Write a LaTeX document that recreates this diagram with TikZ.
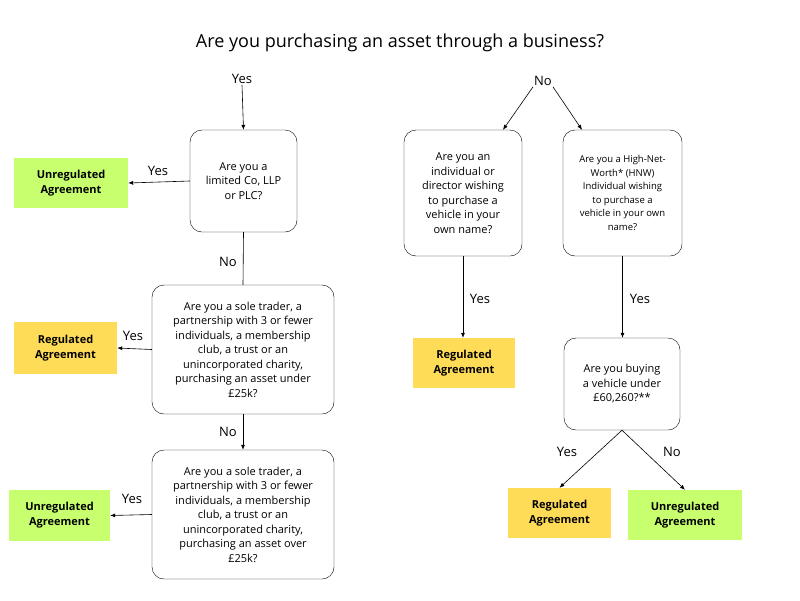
\documentclass[tikz,border=0pt]{standalone}
\usepackage{fontspec}
\setmainfont{Open Sans}
\usetikzlibrary{arrows.meta}
\definecolor{gr}{RGB}{200,255,110}
\definecolor{ye}{RGB}{255,220,88}
\begin{document}
\begin{tikzpicture}[x=1pt,y=-1pt,
 q/.style={draw,rounded corners=12pt,align=center,font=\fontsize{11}{14.5}\selectfont,inner sep=1pt},
 res/.style={fill=#1,align=center,font=\fontsize{11}{15}\selectfont\bfseries,inner sep=0pt},
 lab/.style={font=\fontsize{13}{15}\selectfont,inner sep=1pt},
 arr/.style={-{Latex[length=5pt,width=4pt]},line width=0.6pt},
 ln/.style={line width=0.6pt}]
\path[use as bounding box] (0,0) rectangle (800,600);
\node[font=\fontsize{18}{22}\selectfont] (title) at (400,43) {Are you purchasing an asset through a business?};
\node[lab] (y1) at (242,79) {Yes};
\node[q,minimum width=107pt,minimum height=102pt] (b1) at (243.5,181) {Are you a\\limited Co, LLP\\or PLC?};
\node[res=gr,minimum width=114pt,minimum height=50pt] (g1) at (71,183) {Unregulated\\Agreement};
\node[lab] (y2) at (158,171) {Yes};
\node[lab] (n1) at (228,262) {No};
\node[q,minimum width=182pt,minimum height=129pt] (b2) at (243,349.5) {Are you a sole trader, a\\partnership with 3 or fewer\\individuals, a membership\\club, a trust or an\\unincorporated charity,\\purchasing an asset under\\£25k?};
\node[res=ye,minimum width=103pt,minimum height=52pt] (r1) at (65.5,348) {Regulated\\Agreement};
\node[lab] (y3) at (133,336) {Yes};
\node[lab] (n2) at (228,432) {No};
\node[q,minimum width=182pt,minimum height=129pt] (b3) at (243,514.5) {Are you a sole trader, a\\partnership with 3 or fewer\\individuals, a membership\\club, a trust or an\\unincorporated charity,\\purchasing an asset over\\£25k?};
\node[res=gr,minimum width=101pt,minimum height=51pt] (g2) at (59.5,515.5) {Unregulated\\Agreement};
\node[lab] (y4) at (132,499) {Yes};
\draw[arr] (y1.south) -- (b1.north);
\draw[arr] (b1.west) -- (g1.east);
\draw[ln] (b1.south) -- (b2.north);
\draw[arr] (b2.west) -- (r1.east);
\draw[arr] (b2.south) -- (b3.north);
\draw[arr] (b3.west) -- (g2.east);
% right
\node[lab] (n3) at (543,81) {No};
\node[q,minimum width=118pt,minimum height=126pt] (b4) at (463,193) {Are you an\\individual or\\director wishing\\to purchase a\\vehicle in your\\own name?};
\node[q,minimum width=119pt,minimum height=126pt,font=\fontsize{9.5}{13.5}\selectfont] (b5) at (622.5,193) {Are you a High-Net-\\Worth* (HNW)\\Individual wishing\\to purchase a\\vehicle in your own\\name?};
\node[res=ye,minimum width=102pt,minimum height=50pt] (r2) at (464,363) {Regulated\\Agreement};
\node[lab] (y5) at (480,299) {Yes};
\node[lab] (y6) at (640,299) {Yes};
\node[q,minimum width=116pt,minimum height=92pt] (b6) at (622,384) {Are you buying\\a vehicle under\\£60,260?**};
\node[lab] (y7) at (567,452) {Yes};
\node[lab] (n4) at (672,452) {No};
\node[res=ye,minimum width=103pt,minimum height=50pt] (r3) at (559.5,513) {Regulated\\Agreement};
\node[res=gr,minimum width=114pt,minimum height=50pt] (g3) at (685,515) {Unregulated\\Agreement};
\draw[arr] (n3.south west) -- (b4.north -| 503,0);
\draw[arr] (n3.south east) -- (b5.north -| 582,0);
\draw[arr] (b4.south) -- (r2.north -| b4.south);
\draw[arr] (b5.south) -- (b6.north -| b5.south);
\draw[arr] (b6.south) -- (r3.north);
\draw[arr] (b6.south) -- (g3.north);
\end{tikzpicture}
\end{document}
